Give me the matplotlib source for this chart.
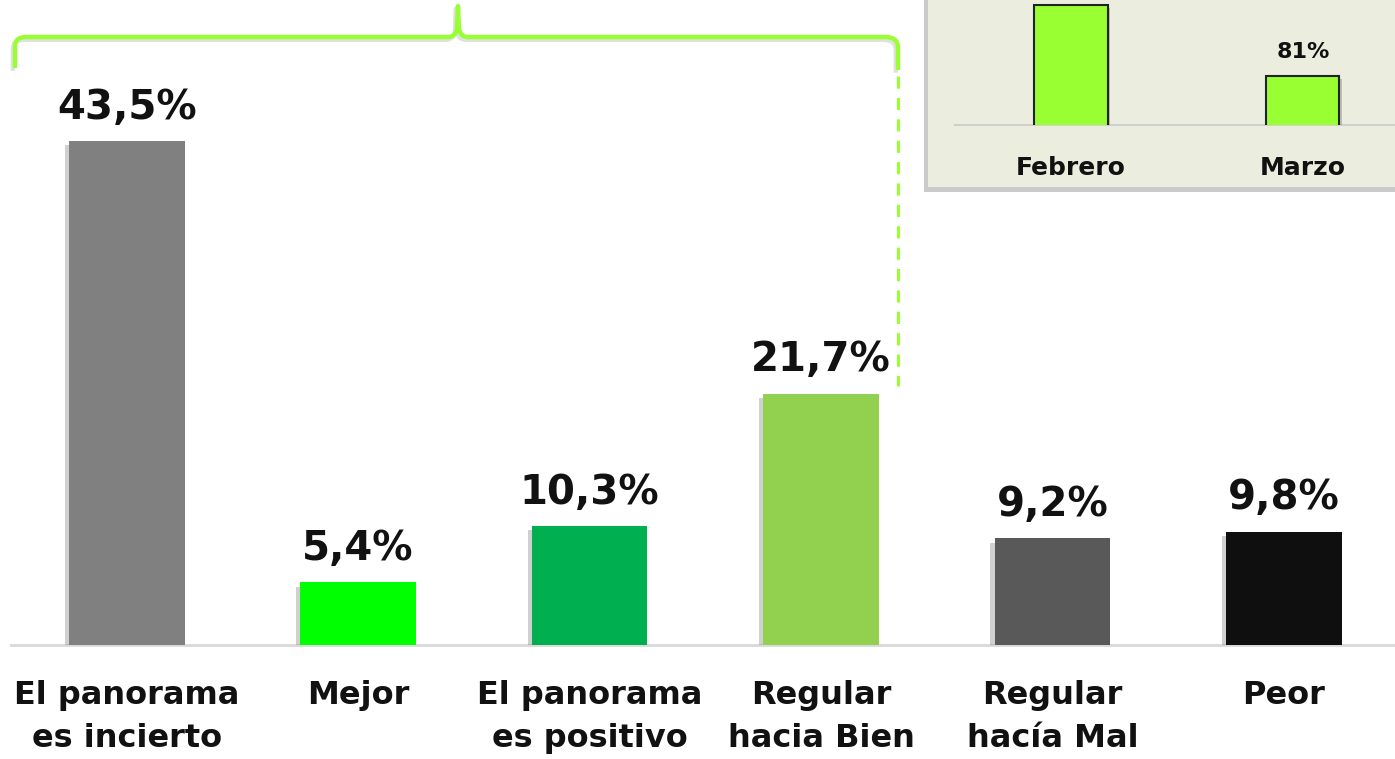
import matplotlib
matplotlib.use("Agg")
import matplotlib.pyplot as plt
from matplotlib.path import Path
from matplotlib.patches import PathPatch, Rectangle
from matplotlib.lines import Line2D
import matplotlib.patheffects as pe

plt.rcParams['font.family'] = ['DejaVu Sans']

# ---- data ----
categories = ["El panorama\nes incierto", "Mejor", "El panorama\nes positivo",
              "Regular\nhacia Bien", "Regular\nhacía Mal", "Peor"]
values = [43.5, 5.4, 10.3, 21.7, 9.2, 9.8]
value_labels = ["43,5%", "5,4%", "10,3%", "21,7%", "9,2%", "9,8%"]
bar_colors = ["#808080", "#00FF00", "#00B050", "#92D050", "#595959", "#0F0F0F"]

inset_months = ["Febrero", "Marzo"]
inset_values = [94, 81]
inset_labels = [None, "81%"]

W, H = 1395, 759
fig = plt.figure(figsize=(W / 100, H / 100), dpi=100)
fig.patch.set_facecolor("white")

def fx(px):
    return px / W

def fy(py):
    return 1 - py / H

# ---- main axes ----
ax = fig.add_axes([fx(11), fy(645), fx(1395) - fx(11), fy(66) - fy(645)])
ax.set_zorder(1)
ax.set_xlim(-0.5, 5.48)
ax.set_ylim(0, 50)
x = list(range(len(categories)))
bars = ax.bar(x, values, width=0.5, color=bar_colors, zorder=3)
for b in bars:
    b.set_path_effects([pe.SimplePatchShadow(offset=(-3, -3), shadow_rgbFace="#666666", alpha=0.3),
                        pe.Normal()])
for xi, v, lab in zip(x, values, value_labels):
    ax.annotate(lab, (xi, v), xytext=(0, 16), textcoords="offset points",
                ha="center", va="baseline", fontsize=29, fontweight="bold", color="#111111")
for s in ["top", "right", "left"]:
    ax.spines[s].set_visible(False)
ax.spines["bottom"].set_color("#D9D9D9")
ax.spines["bottom"].set_linewidth(2)
ax.set_yticks([])
ax.set_xticks(x)
ax.set_xticklabels(categories, fontsize=23, fontweight="bold", color="#111111", linespacing=1.5)
ax.tick_params(axis="x", length=0, pad=25)
ax.patch.set_alpha(0)

# ---- inset background ----
fig.add_artist(Rectangle((fx(924), fy(192)), fx(1395) - fx(924), fy(0) - fy(192),
                         transform=fig.transFigure, facecolor="#A0A0A0", edgecolor="none",
                         alpha=0.55, zorder=0))
fig.add_artist(Rectangle((fx(928), fy(187)), fx(1395) - fx(928), fy(0) - fy(187),
                         transform=fig.transFigure, facecolor="#EBEEDE", edgecolor="none",
                         zorder=0.5))

# ---- inset axes ----
iax = fig.add_axes([fx(955), fy(125), fx(1395) - fx(955), fy(0) - fy(125)])
iax.set_zorder(2)
iax.set_xlim(-0.5, 1.397)
iax.set_ylim(72, 95)
ib = iax.bar([0, 1], inset_values, width=0.315, color="#99FF33", edgecolor="#222222",
             linewidth=1.5, zorder=3)
for b in ib:
    b.set_path_effects([pe.SimplePatchShadow(offset=(2, -2), shadow_rgbFace="#555555", alpha=0.3),
                        pe.Normal()])
for xi, v, lab in zip([0, 1], inset_values, inset_labels):
    if lab:
        iax.annotate(lab, (xi, v), xytext=(0, 13), textcoords="offset points",
                     ha="center", va="baseline", fontsize=16, fontweight="bold", color="#111111")
for s in ["top", "right", "left"]:
    iax.spines[s].set_visible(False)
iax.spines["bottom"].set_color("#D0D0D0")
iax.spines["bottom"].set_linewidth(1.5)
iax.set_yticks([])
iax.set_xticks([0, 1])
iax.set_xticklabels(inset_months, fontsize=18, fontweight="bold", color="#111111")
iax.tick_params(axis="x", length=0, pad=22)
iax.patch.set_alpha(0)

# ---- brace ----
def P(px, py):
    return (fx(px), fy(py))

verts = [P(15, 68), P(15, 46), P(15, 37), P(26, 37), P(448, 37), P(456, 37), P(457, 28),
         P(458, 6), P(459, 28), P(460, 37), P(468, 37), P(886, 37), P(898, 37), P(898, 48), P(898, 70)]
codes = [Path.MOVETO, Path.LINETO, Path.CURVE3, Path.CURVE3, Path.LINETO, Path.CURVE3, Path.CURVE3,
         Path.LINETO, Path.LINETO, Path.CURVE3, Path.CURVE3, Path.LINETO, Path.CURVE3, Path.CURVE3,
         Path.LINETO]
brace = PathPatch(Path(verts, codes), transform=fig.transFigure, facecolor="none",
                  edgecolor="#99FF33", linewidth=3.2, capstyle="butt", joinstyle="round", zorder=5)
brace.set_path_effects([pe.SimpleLineShadow(offset=(-1.5, -2), shadow_color="#999999", alpha=0.3),
                        pe.Normal()])
fig.add_artist(brace)
fig.add_artist(Line2D([fx(898), fx(898)], [fy(76), fy(386)], transform=fig.transFigure,
                      color="#99FF33", linewidth=2.2, linestyle=(0, (4, 3)), zorder=5))

fig.savefig("out.png", dpi=100, facecolor="white")
